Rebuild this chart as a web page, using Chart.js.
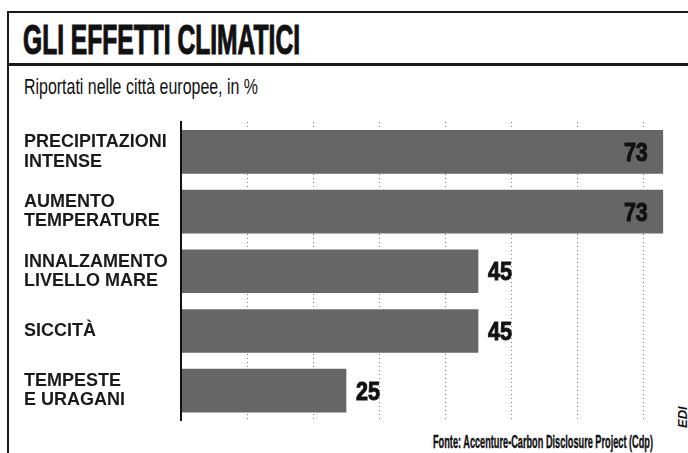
<!DOCTYPE html>
<html>
<head>
<meta charset="utf-8">
<script src="https://cdn.jsdelivr.net/npm/chart.js@4.4.1/dist/chart.umd.min.js"></script>
<style>
  html, body { margin: 0; padding: 0; background: #fff; }
  #wrap { position: relative; width: 688px; height: 453px; overflow: hidden;
          font-family: "Liberation Sans", Arial, sans-serif; color: #111; }
  .rule { position: absolute; background: #1a1a1a; }
  .txt { position: absolute; white-space: nowrap; line-height: 1; transform-origin: 0 0; }
  #title { left: 23px; top: 18px; font-size: 43px; font-weight: bold; -webkit-text-stroke: 1.2px #111; }
  #sub { left: 24px; top: 76px; font-size: 22px; }
  #src { left: 433px; top: 433px; font-size: 18px; font-weight: bold; -webkit-text-stroke: 0.4px #111; }
  #edi { left: 676px; top: 428px; font-size: 13px; font-weight: bold; font-style: italic; transform: rotate(-90deg); }
  #chartBox { position: absolute; left: 0; top: 100px; width: 688px; height: 340px; }
</style>
</head>
<body>
<div id="wrap">
  <div class="rule" style="left:7px;top:11px;width:681px;height:2px"></div>
  <div class="rule" style="left:7px;top:11px;width:2px;height:442px"></div>
  <div class="rule" style="left:7px;top:63px;width:681px;height:3px"></div>
  <div id="title" class="txt" data-w="277">GLI EFFETTI CLIMATICI</div>
  <div id="sub" class="txt" data-w="234">Riportati nelle città europee, in %</div>
  <div id="src" class="txt" data-w="220">Fonte: Accenture-Carbon Disclosure Project (Cdp)</div>
  <div id="edi" class="txt">EDI</div>
  <div id="chartBox"><canvas id="chart" width="688" height="340"></canvas></div>
</div>
<script>
// data
const categories = [
  ['PRECIPITAZIONI', 'INTENSE'],
  ['AUMENTO', 'TEMPERATURE'],
  ['INNALZAMENTO', 'LIVELLO MARE'],
  ['SICCITÀ'],
  ['TEMPESTE', 'E URAGANI']
];
const values = [73, 73, 45, 45, 25];

// squeeze the condensed newspaper headings to their measured widths
document.querySelectorAll('.txt[data-w]').forEach(el => {
  const w = el.getBoundingClientRect().width;
  el.style.transform = 'scaleX(' + (Number(el.dataset.w) / w) + ')';
});

const FONT = '"Liberation Sans", Arial, sans-serif';

// value labels: inside the long bars, after the short ones
const valueLabels = {
  id: 'valueLabels',
  afterDatasetsDraw(chart) {
    const ctx = chart.ctx;
    const meta = chart.getDatasetMeta(0);
    ctx.save();
    ctx.font = 'bold 25px ' + FONT;
    ctx.fillStyle = '#111';
    ctx.strokeStyle = '#111';
    ctx.lineWidth = 1;
    ctx.textBaseline = 'alphabetic';
    meta.data.forEach((bar, i) => {
      const v = values[i];
      const inside = v > 60;
      ctx.save();
      ctx.translate(inside ? bar.x - 15 : bar.x + 10, bar.y + 9);
      ctx.scale(0.86, 1);
      ctx.textAlign = inside ? 'right' : 'left';
      ctx.fillText(String(v), 0, 0);
      ctx.strokeText(String(v), 0, 0);
      ctx.restore();
    });
    ctx.restore();
  }
};

new Chart(document.getElementById('chart'), {
  type: 'bar',
  data: {
    labels: categories,
    datasets: [{
      data: values,
      backgroundColor: '#666666',
      barThickness: 43,
      borderWidth: 0
    }]
  },
  options: {
    indexAxis: 'y',
    responsive: false,
    animation: false,
    devicePixelRatio: 1,
    layout: { padding: { left: 24, right: 12, top: 22, bottom: 16 } },
    plugins: { legend: { display: false }, tooltip: { enabled: false } },
    scales: {
      x: {
        min: 0,
        max: 75,
        ticks: { display: false, stepSize: 10 },
        grid: {
          drawTicks: false,
          lineWidth: 1,
          color: c => (c.tick && c.tick.value > 0 && c.tick.value % 10 === 0) ? '#7a7a7a' : 'rgba(0,0,0,0)'
        },
        border: { display: false, dash: [1, 3] }
      },
      y: {
        grid: { display: false },
        border: { display: true, color: '#111', width: 2, z: 1 },
        ticks: {
          crossAlign: 'far',
          padding: 0,
          color: '#1a1a1a',
          font: { family: FONT, size: 18, weight: 'bold', lineHeight: 1.08 }
        },
        afterFit(scale) { scale.width = 157; }
      }
    }
  },
  plugins: [valueLabels]
});
</script>
</body>
</html>
